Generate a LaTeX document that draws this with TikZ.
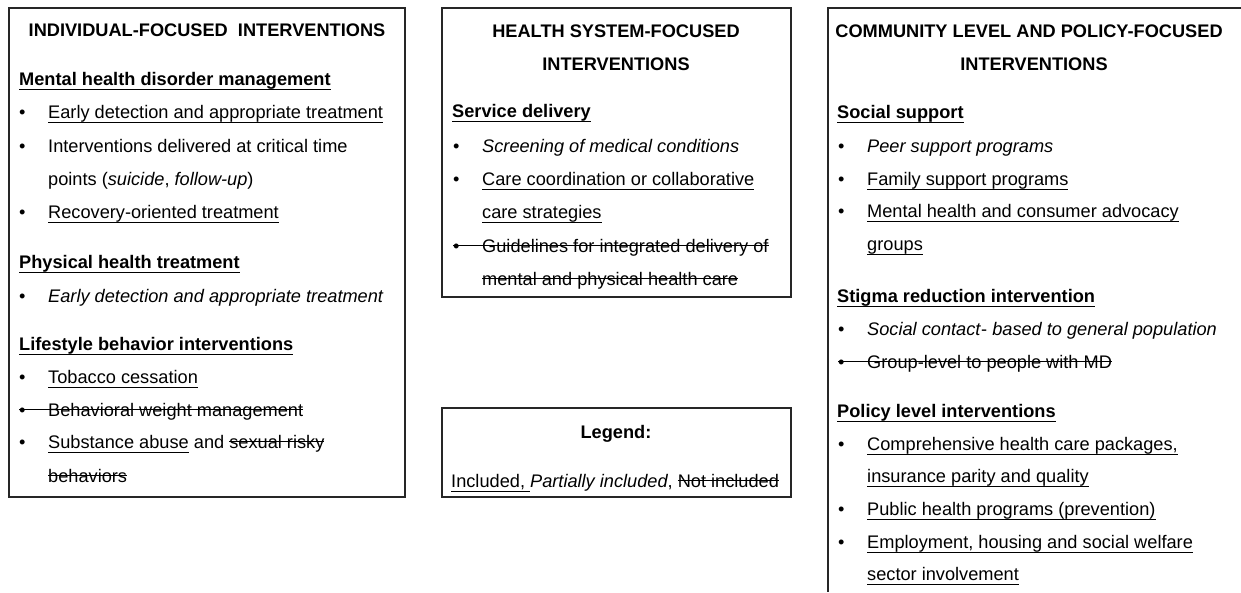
\documentclass[tikz,border=0pt]{standalone}
\usepackage{fontspec}
\setmainfont{Liberation Sans}
\newsavebox{\markbox}
\newcommand{\incl}[1]{\sbox{\markbox}{#1}\rlap{\usebox{\markbox}}\rule[-4.5pt]{\wd\markbox}{1pt}}
\newcommand{\notincl}[1]{\sbox{\markbox}{#1}\rlap{\usebox{\markbox}}\rule[6.5pt]{\wd\markbox}{1pt}}
\newcommand{\bulletbox}{\makebox[29pt][l]{\textbullet}}

\begin{document}
\begin{tikzpicture}[x=1pt, y=-1pt,
    txt/.style={anchor=base west, inner sep=0pt, font=\fontsize{18.2}{22}\selectfont},
    hd/.style={txt, font=\fontsize{18.2}{22}\selectfont\bfseries},
    title/.style={hd, anchor=base},
    frame/.style={draw=black!85, line width=1.1pt}]
    \useasboundingbox (0,0) rectangle (1241,592);

    % individual-focused
    \draw[frame] (9,8) rectangle (405,497);
    \node[title] (indT) at (207,36) {INDIVIDUAL-FOCUSED \ INTERVENTIONS};
    \node[hd] (indA) at (19,85) {\incl{Mental health disorder management}};
    \node[txt] (indA1) at (19,118) {\bulletbox\incl{Early detection and appropriate treatment}};
    \node[txt] (indA2) at (19,152) {\bulletbox Interventions delivered at critical time};
    \node[txt] (indA2b) at (48,185) {points (\textit{suicide}, \textit{follow-up})};
    \node[txt] (indA3) at (19,218) {\bulletbox\incl{Recovery-oriented treatment}};
    \node[hd] (indB) at (19,268) {\incl{Physical health treatment}};
    \node[txt] (indB1) at (19,302) {\bulletbox\textit{Early detection and appropriate treatment}};
    \node[hd] (indC) at (19,350) {\incl{Lifestyle behavior interventions}};
    \node[txt] (indC1) at (19,383) {\bulletbox\incl{Tobacco cessation}};
    \node[txt] (indC2) at (19,416) {\notincl{\bulletbox Behavioral weight management}};
    \node[txt] (indC3) at (19,448) {\bulletbox\incl{Substance abuse} and \notincl{sexual risky}};
    \node[txt] (indC3b) at (48,482) {\notincl{behaviors}};

    % health system-focused
    \draw[frame] (442,8) rectangle (791,297);
    \node[title] (sysT) at (616,37) {HEALTH SYSTEM-FOCUSED};
    \node[title] (sysTb) at (616,70) {INTERVENTIONS};
    \node[hd] (sysA) at (452,117) {\incl{Service delivery}};
    \node[txt] (sysA1) at (453,152) {\bulletbox\textit{Screening of medical conditions}};
    \node[txt] (sysA2) at (453,185) {\bulletbox\incl{Care coordination or collaborative}};
    \node[txt] (sysA2b) at (482,218) {\incl{care strategies}};
    \node[txt] (sysA3) at (453,252) {\notincl{\bulletbox Guidelines for integrated delivery of}};
    \node[txt] (sysA3b) at (482,285) {\notincl{mental and physical health care}};

    % legend
    \draw[frame] (442,408) rectangle (791,497);
    \node[title] (legT) at (616,438) {Legend:};
    \node[txt] (legK) at (451,487) {\incl{Included,~}\textit{Partially included}, \notincl{Not included}};

    % community level and policy-focused
    \draw[frame] (1241,8) -- (828,8) -- (828,592);
    \node[title] (comT) at (1029,37) {COMMUNITY LEVEL AND POLICY-FOCUSED};
    \node[title] (comTb) at (1034,70) {INTERVENTIONS};
    \node[hd] (comA) at (837,118) {\incl{Social support}};
    \node[txt] (comA1) at (838,152) {\bulletbox\textit{Peer support programs}};
    \node[txt] (comA2) at (838,185) {\bulletbox\incl{Family support programs}};
    \node[txt] (comA3) at (838,217) {\bulletbox\incl{Mental health and consumer advocacy}};
    \node[txt] (comA3b) at (867,250) {\incl{groups}};
    \node[hd] (comB) at (837,302) {\incl{Stigma reduction intervention}};
    \node[txt] (comB1) at (838,335) {\bulletbox\textit{Social contact}- \textit{based to general population}};
    \node[txt] (comB2) at (838,368) {\notincl{\bulletbox Group-level to people with MD}};
    \node[hd] (comC) at (837,417) {\incl{Policy level interventions}};
    \node[txt] (comC1) at (838,450) {\bulletbox\incl{Comprehensive health care packages,}};
    \node[txt] (comC1b) at (867,482) {\incl{insurance parity and quality}};
    \node[txt] (comC2) at (838,515) {\bulletbox\incl{Public health programs (prevention)}};
    \node[txt] (comC3) at (838,548) {\bulletbox\incl{Employment, housing and social welfare}};
    \node[txt] (comC3b) at (867,580) {\incl{sector involvement}};
\end{tikzpicture}
\end{document}
